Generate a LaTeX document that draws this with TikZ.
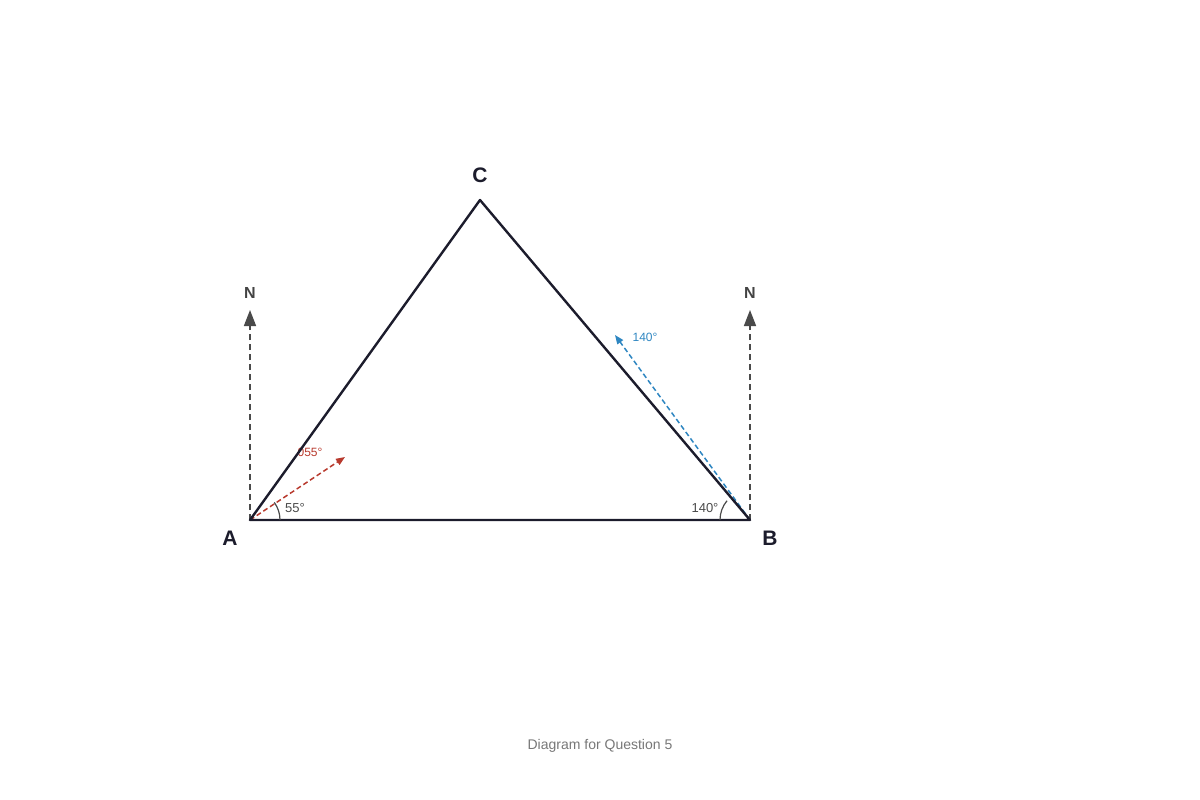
\documentclass[tikz,border=0pt]{standalone}
\usepackage{fontspec}
\setmainfont{Liberation Sans}
\usetikzlibrary{arrows.meta,calc}
\definecolor{navy}{HTML}{1C1C2C}
\definecolor{ngray}{HTML}{4A4A4A}
\definecolor{bred}{HTML}{B83A2E}
\definecolor{bblue}{HTML}{2E86C1}
\definecolor{capgray}{HTML}{777777}
\tikzset{
  side/.style={draw=navy, line width=2.4pt},
  north/.style={draw=ngray, line width=1.6pt, dash pattern=on 6pt off 4pt, -{Triangle[length=16pt,width=12pt]}},
  vertex/.style={font=\fontsize{21}{24}\selectfont\bfseries, text=navy},
  nlabel/.style={font=\fontsize{16}{18}\selectfont\bfseries, text=ngray!90!black},
  anglab/.style={font=\fontsize{13}{15}\selectfont, text=ngray},
  arcst/.style={draw=ngray, line width=1.2pt},
}
\begin{document}
\begin{tikzpicture}[x=1pt,y=-1pt]
\useasboundingbox (0,0) rectangle (1200,800);
\coordinate (A) at (250,520);
\coordinate (B) at (750,520);
\coordinate (C) at (480,200);
\coordinate (NA) at (250,310);
\coordinate (NB) at (750,310);
\coordinate (RA) at (345,457);
\coordinate (BL) at (615,335);
% north lines
\draw[north] (A) -- (NA);
\draw[north] (B) -- (NB);
\node[nlabel] (nA) at (250,293) {N};
\node[nlabel] (nB) at (750,293) {N};
% bearing arrows
\draw[bred, line width=1.5pt, dash pattern=on 5pt off 3pt, -{Triangle[length=9pt,width=7pt]}] (A) -- (RA);
\draw[bblue, line width=1.5pt, dash pattern=on 5pt off 3pt, -{Triangle[length=9pt,width=7pt]}] (B) -- (BL);
\node[font=\fontsize{12}{14}\selectfont, text=bred] (l055) at (310,452) {055°};
\node[font=\fontsize{12}{14}\selectfont, text=bblue] (l140b) at (645,337) {140°};
% triangle
\draw[side, line join=round] (A) -- (B) -- (C) -- cycle;
% angle arcs
\draw[arcst] ($(A)+(30,0)$) arc[start angle=0, end angle=-36, radius=30];
\draw[arcst] ($(B)+(-30,0)$) arc[start angle=180, end angle=220, radius=30];
\node[anglab] (a55) at (295,508) {55°};
\node[anglab] (a140) at (705,508) {140°};
% vertex labels
\node[vertex] (lA) at (230,538) {A};
\node[vertex] (lB) at (770,538) {B};
\node[vertex] (lC) at (480,175) {C};
% caption
\node[font=\fontsize{14}{16}\selectfont, text=capgray] (cap) at (600,746) {Diagram for Question 5};
\end{tikzpicture}
\end{document}
